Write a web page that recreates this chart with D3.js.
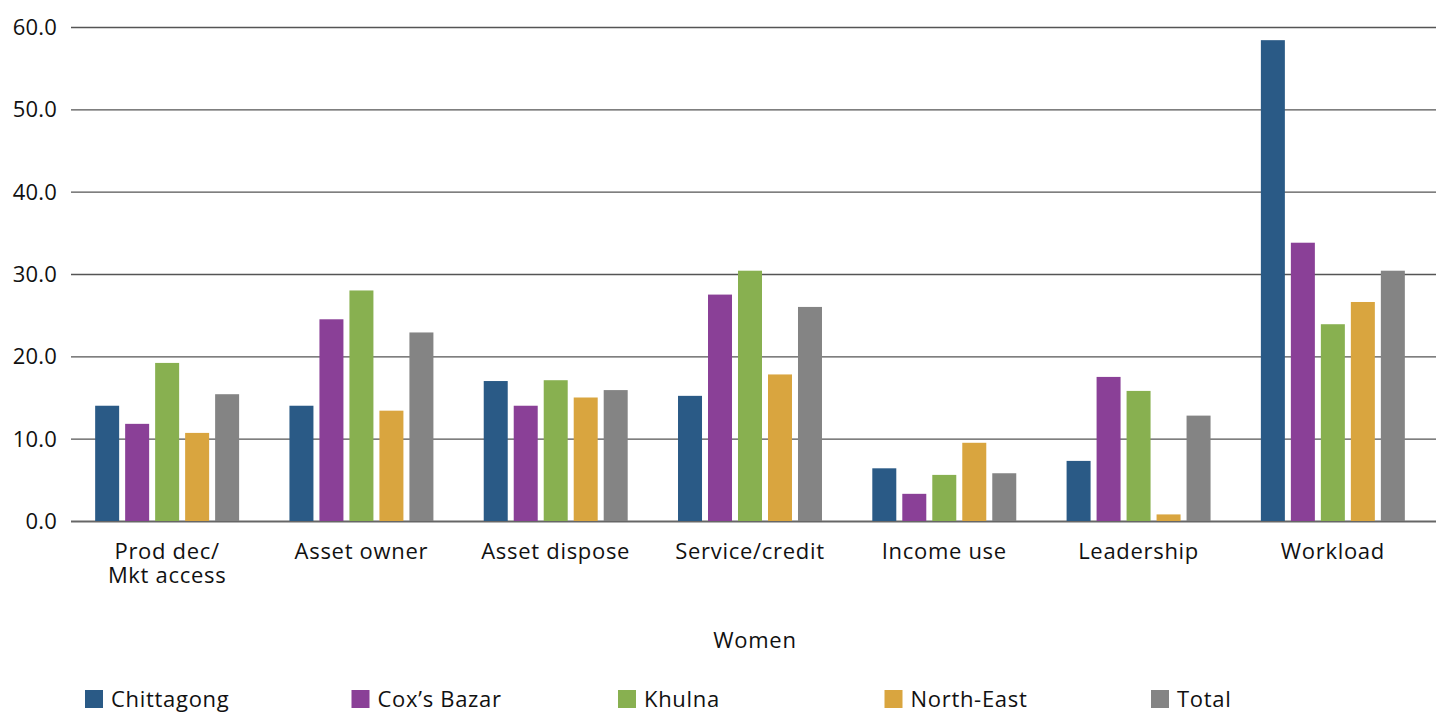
<!DOCTYPE html>
<html>
<head>
<meta charset="utf-8">
<script src="https://cdn.jsdelivr.net/npm/d3@7"></script>
<style>
  body { margin: 0; background: #fff; }
  svg text { font-family: "Open Sans", Lato, sans-serif; fill: #111; letter-spacing: 0.7px; }
</style>
</head>
<body>
<div id="chart"></div>
<script>
const categories = [
  ["Prod dec/", "Mkt access"], ["Asset owner"], ["Asset dispose"],
  ["Service/credit"], ["Income use"], ["Leadership"], ["Workload"]
];
const seriesNames = ["Chittagong", "Cox\u2019s Bazar", "Khulna", "North-East", "Total"];
const chittagong = [14.0, 14.0, 17.0, 15.2, 6.4, 7.3, 58.4];
const coxsBazar  = [11.8, 24.5, 14.0, 27.5, 3.3, 17.5, 33.8];
const khulna     = [19.2, 28.0, 17.1, 30.4, 5.6, 15.8, 23.9];
const northEast  = [10.7, 13.4, 15.0, 17.8, 9.5, 0.8, 26.6];
const total      = [15.4, 22.9, 15.9, 26.0, 5.8, 12.8, 30.4];
const yTicks = [0, 10, 20, 30, 40, 50, 60];
const xTitle = "Women";

const colors = ["#2a5a86", "#8a4097", "#88b050", "#d9a53f", "#848484"];
const seriesVals = [chittagong, coxsBazar, khulna, northEast, total];

const w = 1442, h = 713;
const plotLeft = 70, plotRight = 1430, plotTop = 27, plotBottom = 521;
const fontSize = 22;

const svg = d3.select("#chart").append("svg")
  .attr("width", w).attr("height", h);

const catKeys = categories.map((c, i) => i);
const x0 = d3.scaleBand().domain(catKeys).range([plotLeft, plotRight])
  .paddingInner(0.259).paddingOuter(0.1295);
const x1 = d3.scaleBand().domain(seriesNames).range([0, x0.bandwidth()])
  .paddingInner(0.2);
const y = d3.scaleLinear().domain([0, 60]).range([plotBottom, plotTop]);

// gridlines
svg.append("g").selectAll("line")
  .data(yTicks)
  .enter().append("line")
  .attr("x1", 71).attr("x2", 1436)
  .attr("y1", d => y(d) + 0.5).attr("y2", d => y(d) + 0.5)
  .attr("stroke", d => d === 0 ? "#666" : "#555")
  .attr("stroke-width", d => d === 0 ? 2 : 1.3);

// y labels
svg.append("g").selectAll("text")
  .data(yTicks)
  .enter().append("text")
  .attr("x", 57).attr("y", d => y(d))
  .attr("dy", "0.36em")
  .attr("text-anchor", "end")
  .attr("font-size", fontSize)
  .style("letter-spacing", "0.2px")
  .text(d => d.toFixed(1));

// bars
const groups = svg.append("g").selectAll("g")
  .data(catKeys)
  .enter().append("g")
  .attr("transform", d => `translate(${x0(d)},0)`);

groups.selectAll("rect")
  .data(ci => seriesNames.map((s, si) => ({ s, si, v: seriesVals[si][ci] })))
  .enter().append("rect")
  .attr("x", d => x1(d.s))
  .attr("width", x1.bandwidth())
  .attr("y", d => y(d.v))
  .attr("height", d => y(0) - y(d.v))
  .attr("fill", d => colors[d.si]);

// category labels
const xl = svg.append("g").selectAll("text")
  .data(catKeys)
  .enter().append("text")
  .attr("x", d => x0(d) + x0.bandwidth() / 2)
  .attr("y", 559)
  .attr("text-anchor", "middle")
  .attr("font-size", fontSize);
xl.each(function(d) {
  const t = d3.select(this);
  categories[d].forEach((line, i) => {
    t.append("tspan")
      .attr("x", x0(d) + x0.bandwidth() / 2)
      .attr("dy", i === 0 ? 0 : 23.5)
      .text(line);
  });
});

// axis title
svg.append("text")
  .attr("x", 755).attr("y", 648)
  .attr("text-anchor", "middle")
  .attr("font-size", fontSize)
  .text(xTitle);

// legend
const leg = svg.append("g").selectAll("g")
  .data(seriesNames)
  .enter().append("g")
  .attr("transform", (d, i) => `translate(${85 + i * 266.5},690)`);
leg.append("rect")
  .attr("width", 18).attr("height", 18)
  .attr("fill", (d, i) => colors[i]);
leg.append("text")
  .attr("x", 26).attr("y", 9)
  .attr("dy", "0.36em")
  .attr("font-size", fontSize)
  .text(d => d);
</script>
</body>
</html>
